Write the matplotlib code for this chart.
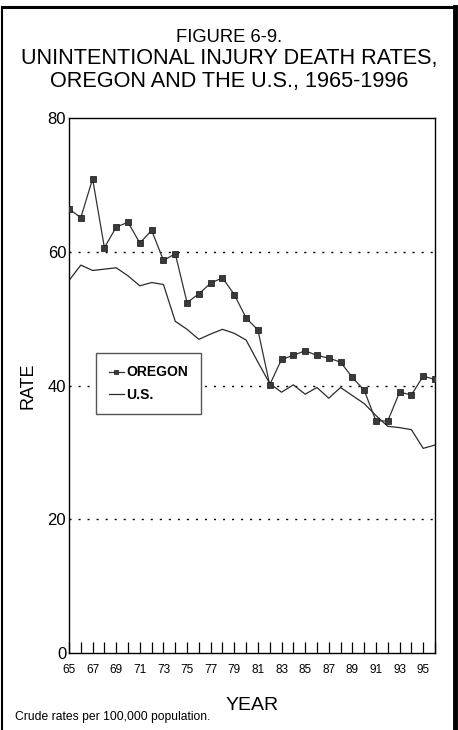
import matplotlib
matplotlib.use("Agg")
import matplotlib.pyplot as plt
from matplotlib.lines import Line2D

plt.rcParams['font.family'] = ['Liberation Sans', 'DejaVu Sans']

years = list(range(65, 97))
oregon = [66.4, 65.1, 70.9, 60.6, 63.7, 64.4, 61.3, 63.2, 58.7, 59.7,
          52.4, 53.7, 55.3, 56.1, 53.6, 50.1, 48.3, 40.1, 43.9, 44.5,
          45.2, 44.5, 44.1, 43.5, 41.2, 39.3, 34.7, 34.7, 39.0, 38.6,
          41.4, 40.9]
us = [55.7, 58.0, 57.2, 57.4, 57.6, 56.4, 54.9, 55.4, 55.1, 49.6,
      48.4, 46.9, 47.7, 48.4, 47.8, 46.8, 43.5, 40.3, 39.0, 40.1,
      38.7, 39.7, 38.1, 39.7, 38.5, 37.3, 35.5, 33.9, 33.7, 33.4,
      30.6, 31.1]
xtick_labels = [str(y) for y in range(65, 96, 2)]
yticks = [0, 20, 40, 60, 80]

W, H = 458, 730
fig = plt.figure(figsize=(W / 100, H / 100), dpi=100)
ax = fig.add_axes([69 / W, (H - 653) / H, (435 - 69) / W, (653 - 118) / H])

ax.plot(years, oregon, color='#333333', lw=0.9, marker='s', markersize=3.8,
        markerfacecolor='#3a3a3a', markeredgecolor='#111111', markeredgewidth=0.5,
        label='OREGON', zorder=3)
ax.plot(years, us, color='#2a2a2a', lw=0.9, label='U.S.', zorder=2)

ax.set_xlim(65, 96)
ax.set_ylim(0, 80)
ax.set_xticks(years, minor=True)
ax.set_xticks(list(range(65, 96, 2)))
ax.set_xticklabels(xtick_labels, fontsize=8.5)
ax.tick_params(axis='x', which='both', direction='in', length=8, width=0.9, pad=8)
ax.set_yticks(yticks)
ax.set_yticklabels([str(v) for v in yticks], fontsize=12)
ax.tick_params(axis='y', length=0, pad=2)
for v in [20, 40, 60]:
    ax.axhline(v, color='black', lw=1.0, ls=(0, (1.5, 5)), zorder=1)
for s in ax.spines.values():
    s.set_linewidth(1.0)
    s.set_color('black')

ax.set_ylabel('RATE', fontsize=13, labelpad=8)
fig.text(252 / W, 1 - 710 / H, 'YEAR', fontsize=14, ha='center', va='baseline')
fig.text(15 / W, 1 - 717 / H, 'Crude rates per 100,000 population.', fontsize=8.7,
         ha='left', va='center')

fig.text(229 / W, 1 - 42 / H, 'FIGURE 6-9.', fontsize=13.2, ha='center', va='baseline')
fig.text(229 / W, 1 - 64 / H, 'UNINTENTIONAL INJURY DEATH RATES,', fontsize=15.6,
         ha='center', va='baseline')
fig.text(229 / W, 1 - 87 / H, 'OREGON AND THE U.S., 1965-1996', fontsize=15.6,
         ha='center', va='baseline')

leg = ax.legend(loc='upper left',
                bbox_to_anchor=((96 - 69) / (435 - 69), (653 - 353) / (653 - 118)),
                borderaxespad=0,
                fancybox=False, edgecolor='#555555', framealpha=1,
                prop={'weight': 'bold', 'size': 10}, handlelength=1.1,
                handletextpad=0.2, borderpad=0.9, labelspacing=0.6, markerscale=0.75)
leg.get_frame().set_linewidth(1.0)

# outer frame
fig.add_artist(Line2D([2 / W, 2 / W], [0, 1 - 7 / H], transform=fig.transFigure, color='black', lw=1.5))
fig.add_artist(Line2D([2 / W, 455 / W], [1 - 7 / H, 1 - 7 / H], transform=fig.transFigure, color='black', lw=2.2))
fig.add_artist(Line2D([455 / W, 455 / W], [0, 1 - 7 / H], transform=fig.transFigure, color='black', lw=3.5))

fig.savefig('out.png', dpi=100)
